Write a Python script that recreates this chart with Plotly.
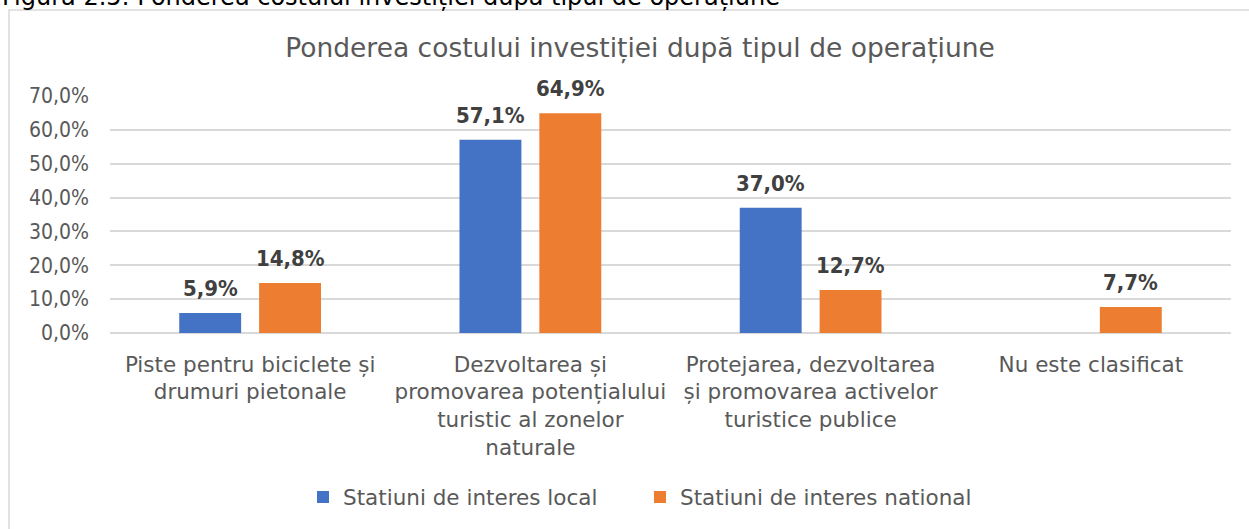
import plotly.graph_objects as go

categories = [
    "Piste pentru biciclete și<br>drumuri pietonale",
    "Dezvoltarea și<br>promovarea potențialului<br>turistic al zonelor<br>naturale",
    "Protejarea, dezvoltarea<br>și promovarea activelor<br>turistice publice",
    "Nu este clasificat",
]
local_vals = [5.9, 57.1, 37.0, None]
national_vals = [14.8, 64.9, 12.7, 7.7]
series_names = ["Statiuni de interes local", "Statiuni de interes national"]
y_ticks = [0, 10, 20, 30, 40, 50, 60, 70]
y_tick_labels = ["0,0%", "10,0%", "20,0%", "30,0%", "40,0%", "50,0%", "60,0%", "70,0%"]

FONT_C = "DejaVu Sans Condensed, DejaVu Sans, sans-serif"
FONT = "DejaVu Sans, sans-serif"
W, H = 1249, 529
ml, mr, mt, mb = 110, 18, 96, 196

fig = go.Figure()
series = [(local_vals, "#4472C4", -40), (national_vals, "#ED7D31", 40)]
for (vals, color, shift), name in zip(series, series_names):
    fig.add_trace(go.Bar(
        x=categories, y=vals, name=name,
        marker=dict(color=color, line=dict(width=0)),
    ))
    for cat, v in zip(categories, vals):
        if v is None:
            continue
        fig.add_annotation(
            x=cat, y=v, xref="x", yref="y", showarrow=False,
            text=f"{v:.1f}%".replace(".", ","),
            xshift=shift, yshift=10, yanchor="bottom",
            font=dict(family=FONT_C, size=22, color="#404040", weight="bold"),
        )

plot_h = H - mt - mb
plot_w = W - ml - mr
# chart frame
fig.add_shape(type="rect", xref="paper", yref="paper",
              x0=(9 - ml) / plot_w, x1=1.3,
              y0=-2, y1=(H - mb - 10) / plot_h,
              line=dict(color="#D9D9D9", width=1.5), layer="below")

fig.add_annotation(
    text="Figura 2.5: Ponderea costului investiției după tipul de operațiune",
    xref="paper", yref="paper", x=(0 - ml) / plot_w, y=(H - mb - 13) / plot_h,
    xanchor="left", yanchor="bottom", showarrow=False,
    font=dict(family=FONT, size=24, color="#000000"),
)

fig.update_layout(
    width=W, height=H,
    margin=dict(l=ml, r=mr, t=mt, b=mb),
    paper_bgcolor="white", plot_bgcolor="white",
    separators=", ",
    barmode="group", bargap=0.43, bargroupgap=0.225,
    title=dict(text="Ponderea costului investiției după tipul de operațiune",
               x=640 / W, xref="container", xanchor="center",
               y=1 - 48 / H, yref="container", yanchor="middle",
               font=dict(family=FONT, size=26.5, color="#595959")),
    font=dict(family=FONT, size=21.5, color="#595959"),
    yaxis=dict(range=[0, 70], tickvals=y_ticks, ticktext=y_tick_labels,
               showgrid=True, gridcolor="#D9D9D9", gridwidth=1.5,
               zeroline=True, zerolinecolor="#D9D9D9", zerolinewidth=1.5,
               showline=False, ticks="", ticklabelstandoff=20,
               tickfont=dict(family=FONT_C, size=21, color="#595959")),
    xaxis=dict(showline=False, ticks="", ticklabelstandoff=16,
               tickfont=dict(family=FONT, size=21.5, color="#595959")),
    legend=dict(orientation="h", x=640 / W, xref="container", xanchor="center",
                y=1 - 497 / H, yref="container", yanchor="middle",
                font=dict(family=FONT, size=21.5, color="#595959"),
                itemwidth=30, traceorder="normal", entrywidth=292),
)

fig.write_html("out.html", config={"displayModeBar": False},
               post_script="document.body.style.margin='0';document.body.style.padding='0';document.body.style.overflow='hidden';")
